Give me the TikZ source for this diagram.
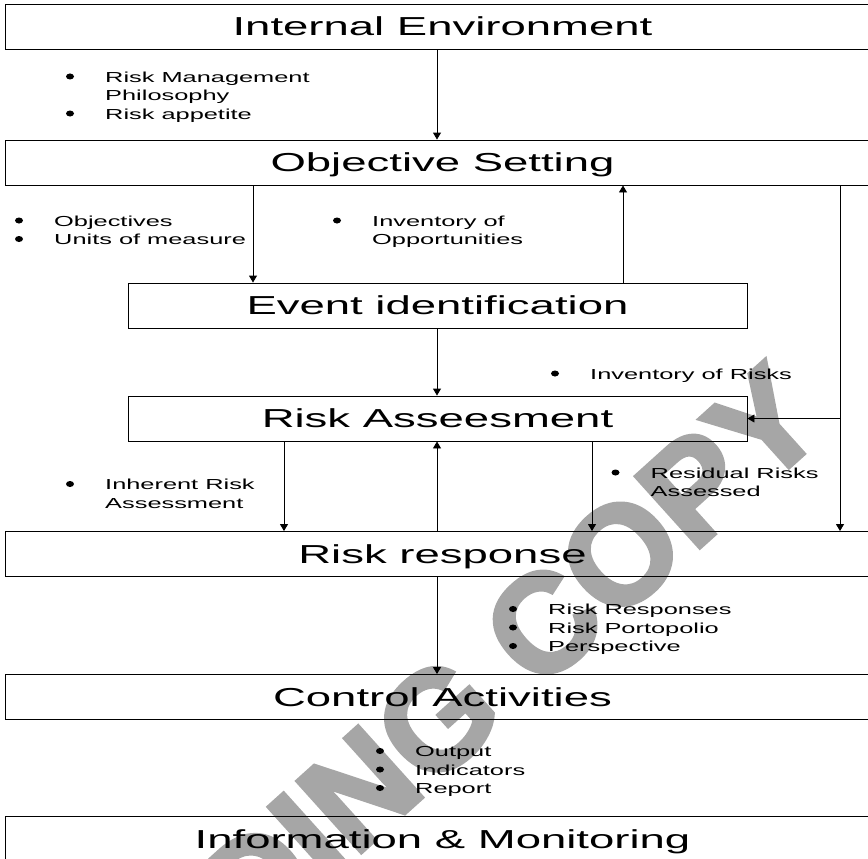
\documentclass[tikz,border=0pt]{standalone}
\usepackage{fontspec}
\setmainfont{Liberation Sans}[FakeStretch=1.75]
\newfontfamily\markfont{Liberation Sans}[BoldFont={Liberation Sans Bold}, BoldFeatures={FakeBold=3}]
\usetikzlibrary{arrows.meta}
\begin{document}
\begin{tikzpicture}[x=1pt,y=-1pt,
  stage/.style={draw=black, line width=0.9pt, inner sep=0pt,
    font=\fontsize{26}{30}\selectfont, text height=18.6pt, text depth=0pt},
  wide/.style={stage, minimum width=875pt, minimum height=45pt},
  narrow/.style={stage, minimum width=619pt, minimum height=45pt},
  flow/.style={line width=0.9pt, -{Triangle[length=7pt,width=8pt]}},
  note/.style={anchor=base west, inner sep=0pt, font=\fontsize{14.5}{18.5}\selectfont},
  dot/.style={fill=black},
]
\useasboundingbox (0,0) rectangle (868,859);
\clip (0,0) rectangle (868,859);

% background stamp
\node[rotate=42, inner sep=0pt, text=black!35,
      font=\markfont\bfseries\fontsize{139}{139}\selectfont] (stamp) at (400,753) {READING COPY};

% stages
\node[wide]   (ie) at (442.5,26.5)  {Internal Environment};
\node[wide]   (os) at (442.5,162.5) {Objective Setting};
\node[narrow] (ei) at (437.5,305.5) {Event identification};
\node[narrow] (ra) at (437.5,418.5) {Risk Asseesment};
\node[wide]   (rr) at (442.5,554)   {Risk response};
\node[wide]   (ca) at (442.5,697)   {Control Activities};
\node[wide]   (im) at (442.5,839)   {Information \& Monitoring};

% reference columns for connectors
\coordinate (cmid) at (437,0);
\coordinate (cobj) at (253,0);
\coordinate (copp) at (623,0);
\coordinate (cinh) at (284,0);
\coordinate (cres) at (592,0);
\coordinate (cside) at (840,0);

% connectors
\draw[flow] (ie.south -| cmid) -- (os.north -| cmid);
\draw[flow] (os.south -| cobj) -- (ei.north -| cobj);
\draw[flow] (ei.north -| copp) -- (os.south -| copp);
\draw[flow] (ei.south -| cmid) -- (ra.north -| cmid);
\draw[flow] (ra.south -| cinh) -- (rr.north -| cinh);
\draw[flow] (rr.north -| cmid) -- (ra.south -| cmid);
\draw[flow] (ra.south -| cres) -- (rr.north -| cres);
\draw[flow] (os.south -| cside) -- (rr.north -| cside);
\draw[flow] (ra.east -| cside) -- (ra.east);
\draw[flow] (rr.south -| cmid) -- (ca.north -| cmid);

% bullet notes
\node[note] (n1a) at (105,82)    {Risk Management};
\node[note] (n1b) at (105,100.5) {Philosophy};
\node[note] (n1c) at (105,119)   {Risk appetite};

\node[note] (n2a) at (54,226)    {Objectives};
\node[note] (n2b) at (54,244.5)  {Units of measure};

\node[note] (n3a) at (372,226)   {Inventory of};
\node[note] (n3b) at (372,244.5) {Opportunities};

\node[note] (n4a) at (590,379)   {Inventory of Risks};

\node[note] (n5a) at (105,489.5) {Inherent Risk};
\node[note] (n5b) at (105,508)   {Assessment};

\node[note] (n6a) at (650.5,478) {Residual Risks};
\node[note] (n6b) at (650.5,496.5) {Assessed};

\node[note] (n7a) at (548,614.5) {Risk Responses};
\node[note] (n7b) at (548,633)   {Risk Portopolio};
\node[note] (n7c) at (548,651.5) {Perspective};

\node[note] (n8a) at (415,756.5) {Output};
\node[note] (n8b) at (415,775)   {Indicators};
\node[note] (n8c) at (415,793.5) {Report};

% bullet marks in front of each item
\foreach \n in {n1a,n1c,n2a,n2b,n3a,n4a,n5a,n6a,n7a,n7b,n7c,n8a,n8b,n8c}
  \fill[dot] ([shift={(-35,-5.5)}]\n.base west) ellipse (4 and 3);
\end{tikzpicture}
\end{document}
